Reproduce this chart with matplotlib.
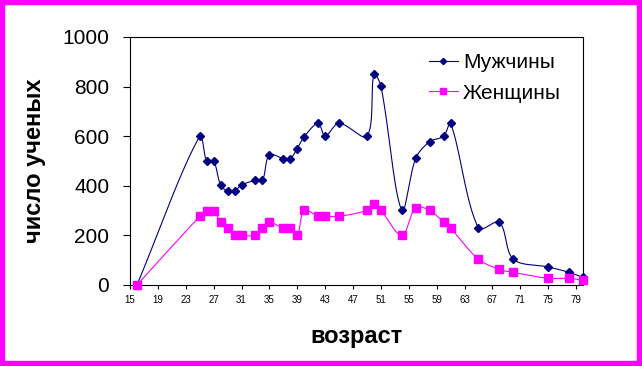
import numpy as np
import matplotlib.pyplot as plt
from matplotlib.patches import Rectangle

ages = [16, 25, 26, 27, 28, 29, 30, 31, 33, 34, 35, 37, 38, 39, 40, 42,
        43, 45, 49, 50, 51, 54, 56, 58, 60, 61, 65, 68, 70, 75, 78, 80]
men = [0, 600, 500, 500, 403, 379, 379, 403, 422, 422, 525, 510, 510, 550, 598, 652,
       601, 652, 600, 850, 802, 301, 511, 578, 600, 652, 229, 253, 104, 73, 51, 31]
women = [0, 277, 300, 300, 253, 229, 200, 200, 200, 229, 253, 229, 229, 200, 302, 277,
         277, 277, 301, 325, 301, 200, 312, 301, 253, 229, 104, 63, 51, 27, 27, 19]
xticks = list(range(15, 80, 4))
yticks = [0, 200, 400, 600, 800, 1000]

# rough pixels per data unit, used so the smoothing behaves like on screen
SX, SY = 6.97, 0.248


def smooth(x, y, n=30):
    # Excel-like smoothed line: Bezier segments, tangents weighted by chord length
    p = np.column_stack([np.asarray(x) * SX, np.asarray(y) * SY]).astype(float)
    p = np.vstack([p[:1], p, p[-1:]])
    out = []
    t = np.linspace(0, 1, n)[:, None]
    k = 0.5
    for i in range(1, len(p) - 2):
        p0, p1, p2, p3 = p[i - 1], p[i], p[i + 1], p[i + 2]
        d01 = np.hypot(*(p1 - p0))
        d12 = np.hypot(*(p2 - p1))
        d23 = np.hypot(*(p3 - p2))
        c1 = p1 + k * (p2 - p0) * d12 / max(d01 + d12, 1e-9) * 2 / 3
        c2 = p2 - k * (p3 - p1) * d12 / max(d12 + d23, 1e-9) * 2 / 3
        seg = ((1 - t) ** 3) * p1 + 3 * ((1 - t) ** 2) * t * c1 + 3 * (1 - t) * t ** 2 * c2 + t ** 3 * p2
        out.append(seg)
    s = np.vstack(out)
    return s[:, 0] / SX, s[:, 1] / SY


plt.rcParams['font.family'] = ['Liberation Sans', 'DejaVu Sans']

fig = plt.figure(figsize=(6.42, 3.66), dpi=100)
fig.patches.append(Rectangle((0, 0), 1, 1, transform=fig.transFigure,
                             facecolor='none', edgecolor='#FF00FF', linewidth=7.5))
ax = fig.add_axes([130 / 642, 1 - 285 / 366, 453 / 642, 248 / 366])

mx, my = smooth(ages, men)
wx, wy = smooth(ages, women)
ax.plot(mx, my, color='#000080', lw=0.8, clip_on=False)
ax.plot(wx, wy, color='#FF00FF', lw=0.8, clip_on=False)
ax.plot(ages, men, ls='none', marker='D', ms=3.8, color='#000080', clip_on=False, zorder=3)
ax.plot(ages, women, ls='none', marker='s', ms=5.2, color='#FF00FF', clip_on=False, zorder=3)

# legend proxies
h1, = ax.plot([], [], color='#000080', lw=0.8, marker='D', ms=3.2, label='Мужчины')
h2, = ax.plot([], [], color='#FF00FF', lw=0.8, marker='s', ms=4.5, label='Женщины')
ax.legend(handles=[h1, h2], loc='upper left', bbox_to_anchor=(0.618, 1.01),
          frameon=False, fontsize=15, handlelength=1.4, handletextpad=0.25,
          labelspacing=0.55)

ax.set_xlim(15, 80)
ax.set_ylim(0, 1000)
ax.set_xticks(xticks)
ax.set_yticks(yticks)
ax.tick_params(axis='y', labelsize=15, length=5, pad=10, width=0.8)
ax.tick_params(axis='x', labelsize=7, length=3, pad=4, width=0.8)
for s in ax.spines.values():
    s.set_linewidth(0.8)

ax.set_ylabel('число ученых', fontsize=17, fontweight='bold')
ax.yaxis.set_label_coords(-0.185, 0.5)
ax.set_xlabel('возраст', fontsize=17, fontweight='bold')
ax.xaxis.set_label_coords(0.5, -0.161)

fig.savefig('out.png', dpi=100)
